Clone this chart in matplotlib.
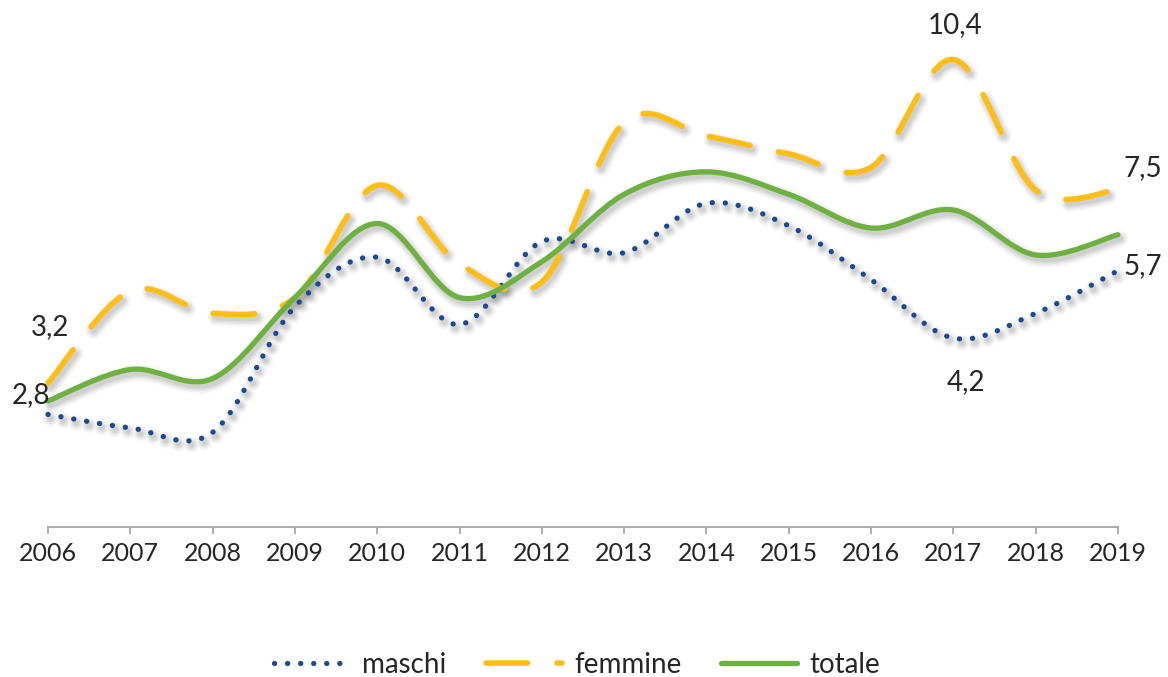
import numpy as np
import matplotlib
matplotlib.use('Agg')
import matplotlib.pyplot as plt
import matplotlib.transforms as mtransforms
from matplotlib.path import Path
from matplotlib.patches import PathPatch
from matplotlib.lines import Line2D

# data
years = [2006, 2007, 2008, 2009, 2010, 2011, 2012, 2013, 2014, 2015, 2016, 2017, 2018, 2019]
maschi = [2.5, 2.2, 2.1, 4.9, 6.0, 4.5, 6.35, 6.1, 7.2, 6.7, 5.5, 4.2, 4.75, 5.7]
femmine = [3.2, 5.25, 4.75, 5.1, 7.6, 5.85, 5.45, 9.0, 8.7, 8.3, 8.0, 10.4, 7.5, 7.5]
totale = [2.8, 3.5, 3.3, 5.1, 6.75, 5.1, 5.9, 7.4, 7.9, 7.4, 6.65, 7.05, 6.05, 6.5]
series_names = ['maschi', 'femmine', 'totale']

# labels shown on the chart: (series index, year index, text, offset in pt)
point_labels = [
    (1, 0, '3,2', (1.5, 40)),
    (2, 0, '2,8', (-12, 4.5)),
    (1, 11, '10,4', (1.5, 25)),
    (1, 13, '7,5', (18, 16)),
    (0, 13, '5,7', (18, 3.5)),
    (0, 11, '4,2', (9, -32)),
]

BLUE = '#1B4A93'
YELLOW = '#FFBE16'
GREEN = '#6EB140'
TXT = '#262626'

plt.rcParams['font.family'] = ['Lato', 'DejaVu Sans']
plt.rcParams['lines.scale_dashes'] = False


def smooth_path(xs, ys):
    """Excel-like smoothed line as cubic bezier path through the data points."""
    pts = np.column_stack([xs, ys]).astype(float)
    n = len(pts)
    verts = [pts[0]]
    codes = [Path.MOVETO]
    for i in range(n - 1):
        p0 = pts[max(i - 1, 0)]
        p1 = pts[i]
        p2 = pts[i + 1]
        p3 = pts[min(i + 2, n - 1)]
        verts += [p1 + (p2 - p0) / 6, p2 - (p3 - p1) / 6, p2]
        codes += [Path.CURVE4] * 3
    return Path(verts, codes)


fig = plt.figure(figsize=(11.68, 6.77), dpi=100)
ax = fig.add_axes([0.0411, 0.222, 0.916, 0.763])
ax.set_xlim(2006, 2019)
ax.set_ylim(0, 11.5)

styles = [
    dict(color=BLUE, lw=3.8, ls=(0, (0.1, 9.3))),
    dict(color=YELLOW, lw=4.0, ls=(0, (30, 21))),
    dict(color=GREEN, lw=3.8, ls='solid'),
]
all_vals = [maschi, femmine, totale]

# shadows first
shadow_tr = ax.transData + mtransforms.ScaledTranslation(2.5 / 100, -4 / 100, fig.dpi_scale_trans)
for vals, st in zip(all_vals, styles):
    path = smooth_path(years, vals)
    for extra, a in [(8, 0.04), (6, 0.05), (4, 0.07), (2, 0.09), (0, 0.1)]:
        p = PathPatch(path, fill=False, edgecolor='#6f6f6f', alpha=a,
                      lw=st['lw'] + extra, ls=st['ls'], capstyle='round',
                      joinstyle='round', transform=shadow_tr, clip_on=False)
        ax.add_patch(p)

for vals, st in zip(all_vals, styles):
    p = PathPatch(smooth_path(years, vals), fill=False, edgecolor=st['color'],
                  lw=st['lw'], ls=st['ls'], capstyle='round', joinstyle='round',
                  clip_on=False, zorder=3)
    ax.add_patch(p)

for si, yi, txt, off in point_labels:
    ax.annotate(txt, (years[yi], all_vals[si][yi]), xytext=off,
                textcoords='offset points', ha='center', va='center',
                fontsize=20, color=TXT)

for s in ['left', 'right', 'top']:
    ax.spines[s].set_visible(False)
ax.spines['bottom'].set_color('#A6A6A6')
ax.spines['bottom'].set_linewidth(1.3)
ax.set_yticks([])
ax.set_xticks(years)
ax.set_xticklabels([str(y) for y in years])
ax.tick_params(axis='x', length=5, width=1.3, color='#A6A6A6', pad=6,
               labelsize=18, labelcolor=TXT)

handles = [Line2D([], [], color=st['color'], lw=st['lw'], ls=st['ls'],
                  solid_capstyle='round', dash_capstyle='round')
           for st in styles]
fig.legend(handles, series_names, loc='center', bbox_to_anchor=(0.494, 0.018),
           ncol=3, frameon=False, fontsize=20, handlelength=2.75,
           columnspacing=1.4, handletextpad=0.45, labelcolor=TXT)

fig.savefig('out.png', dpi=100)
